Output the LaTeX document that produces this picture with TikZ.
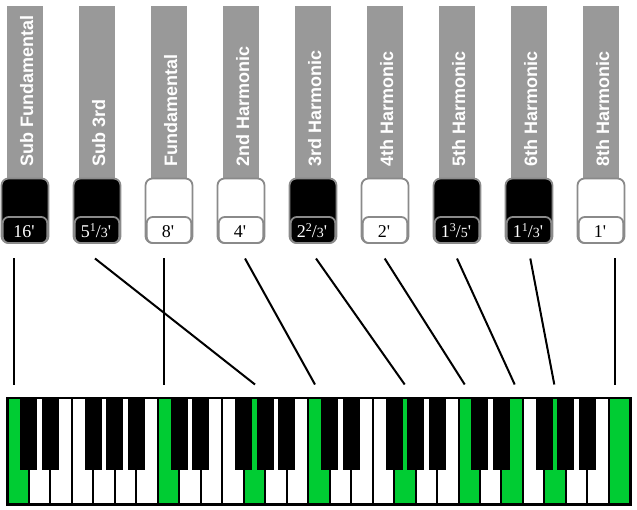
\documentclass[tikz,border=0pt]{standalone}
\usepackage{fontspec}
\setmainfont{Liberation Serif}
\newfontfamily\barfont{Liberation Sans}
\definecolor{bargray}{HTML}{999999}
\definecolor{knobgray}{HTML}{8A8A8A}
\definecolor{keygreen}{HTML}{00CC33}
\newcommand\pq{\textquotesingle}
\newcommand\frc[3]{#1\raisebox{5.5pt}{\fontsize{12}{12}\selectfont #2}/{\fontsize{14}{14}\selectfont #3}\pq}
\begin{document}
\begin{tikzpicture}[x=1pt,y=-1pt,
  drawbar/.style={fill=bargray, draw=none, minimum width=36pt, minimum height=178pt, inner sep=0pt},
  barlabel/.style={rotate=90, anchor=base west, inner sep=0pt, text=white, font=\barfont\bfseries\fontsize{18}{18}\selectfont},
  knob/.style={draw=knobgray, line width=1.8pt, rounded corners=7pt, minimum width=47pt, minimum height=64.5pt, inner sep=0pt},
  footbox/.style={draw=knobgray, line width=1.8pt, rounded corners=6pt, minimum width=44.5pt, minimum height=26pt, inner sep=0pt},
  footage/.style={anchor=base, inner sep=0pt, font=\fontsize{18}{18}\selectfont},
  wire/.style={line width=2pt, black},
  whitekey/.style={draw=black, line width=2pt, minimum width=21.476pt, minimum height=106.7pt, inner sep=0pt},
  blackkey/.style={fill=black, draw=none, minimum width=17pt, minimum height=72pt, inner sep=0pt},
  frame/.style={draw=black, line width=2.6pt, minimum width=622.8pt, minimum height=106.7pt, inner sep=0pt},
]
\useasboundingbox (0,0) rectangle (637,510);

% drawbars
\foreach \i/\nm/\ft/\kf/\kt in {
 1/Sub Fundamental/{16\pq}/black/white,
 2/Sub 3rd/{\frc{5}{1}{3}}/black/white,
 3/Fundamental/{8\pq}/white/black,
 4/2nd Harmonic/{4\pq}/white/black,
 5/3rd Harmonic/{\frc{2}{2}{3}}/black/white,
 6/4th Harmonic/{2\pq}/white/black,
 7/5th Harmonic/{\frc{1}{3}{5}}/black/white,
 8/6th Harmonic/{\frc{1}{1}{3}}/black/white,
 9/8th Harmonic/{1\pq}/white/black}{
 \pgfmathsetmacro\c{25+72*(\i-1)}
 \node[drawbar] (bar\i) at (\c,95) {};
 \node[barlabel] (name\i) at (\c+8,167) {\nm};
 \node[knob, fill=\kf] (knob\i) at (\c,210.75) {};
 \node[footbox, fill=\kf] (box\i) at (\c,230) {};
 \node[footage, text=\kt] (ft\i) at (\c-1,237.5) {\ft};
}

% keyboard: white keys
\foreach \j in {0,...,28}{
 \node[whitekey, fill=white] (wk\j) at ({7.5+21.476*(\j+0.5)},451.35) {};
}
\foreach \j in {0,7,11,14,18,21,23,25,28}{
 \node[whitekey, fill=keygreen] (gk\j) at ({7.5+21.476*(\j+0.5)},451.35) {};
}
% black keys
\foreach \o in {0,...,3}{
 \foreach \k in {1,2,4,5,6}{
  \node[blackkey] (bk\o\k) at ({7.5+21.476*(7*\o+\k)},434) {};
 }
}
\node[frame] (keyboard) at (318.9,451.35) {};

% connectors
\foreach \n/\xt/\xb in {1/14.3/14.3, 2/95/255, 3/164.3/164.3, 4/245/315, 5/316/404.7,
  6/384.7/464.7, 7/457/514.7, 8/530.3/554.3, 9/614.7/614.7}{
 \coordinate (t\n) at (\xt,258.5);
 \coordinate (b\n) at (\xb,384.5);
 \draw[wire] (t\n) -- (b\n);
}
\end{tikzpicture}
\end{document}
